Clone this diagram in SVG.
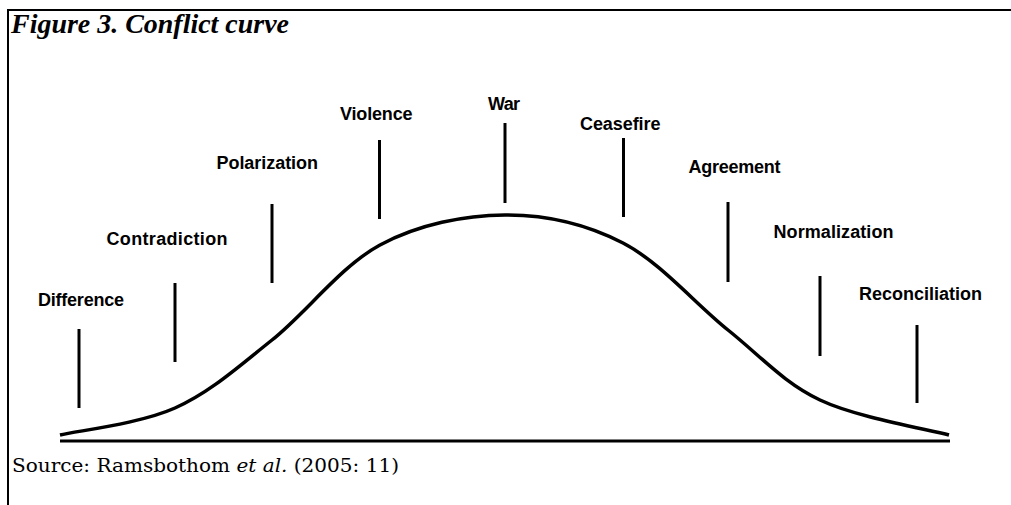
<svg xmlns="http://www.w3.org/2000/svg" width="1011" height="505" viewBox="0 0 1011 505">
  <style>
    .frame { stroke: #000; stroke-width: 2; fill: none; }
    .axis { stroke: #000; stroke-width: 3; fill: none; }
    .curve { stroke: #000; stroke-width: 3.5; fill: none; stroke-linejoin: round; }
    .tick { stroke: #000; stroke-width: 3; }
    .label { font-family: "Liberation Sans", Arial, sans-serif; font-weight: bold; font-size: 18px; fill: #000; }
    .title { font-family: "Liberation Serif", "Times New Roman", serif; font-weight: bold; font-style: italic; font-size: 27px; fill: #000; }
    .source { font-family: "DejaVu Serif", "Liberation Serif", serif; font-size: 19px; fill: #000; }
  </style>
  <rect width="1011" height="505" fill="#fff"/>

  <!-- figure frame: top rule and left rule -->
  <g id="frame">
    <line class="frame" x1="7" y1="10" x2="1011" y2="10"/>
    <line class="frame" x1="8" y1="10" x2="8" y2="505"/>
  </g>

  <text id="title" class="title" x="11" y="33" textLength="278" lengthAdjust="spacingAndGlyphs">Figure 3. Conflict curve</text>

  <!-- axis and bell-shaped conflict curve -->
  <g id="connectors">
    <line class="axis" x1="60" y1="441" x2="950" y2="441"/>
    <path class="curve" d="M60,435 C79.2,430.5 139.7,423.8 175,408 C210.3,392.2 237.8,367.2 272,340 C306.2,312.8 341.2,265.8 380,245 C418.8,224.2 464.5,215.3 505,215 C545.5,214.7 585.8,223.8 623,243 C660.2,262.2 695.2,303.8 728,330 C760.8,356.2 783.2,382.5 820,400 C856.8,417.5 927.5,429.2 949,435"/>
  </g>

  <!-- stages: label with pointer line -->
  <g id="difference">
    <text class="label" x="38" y="306" textLength="86">Difference</text>
    <line class="tick" x1="79" y1="329" x2="79" y2="408"/>
  </g>
  <g id="contradiction">
    <text class="label" x="106.5" y="245" textLength="121">Contradiction</text>
    <line class="tick" x1="175" y1="283" x2="175" y2="362"/>
  </g>
  <g id="polarization">
    <text class="label" x="216.5" y="169" textLength="101.5">Polarization</text>
    <line class="tick" x1="272" y1="204" x2="272" y2="283"/>
  </g>
  <g id="violence">
    <text class="label" x="340" y="120" textLength="72.5">Violence</text>
    <line class="tick" x1="379.5" y1="140" x2="379.5" y2="219"/>
  </g>
  <g id="war">
    <text class="label" x="488" y="110" textLength="32">War</text>
    <line class="tick" x1="505" y1="123" x2="505" y2="203"/>
  </g>
  <g id="ceasefire">
    <text class="label" x="580" y="130" textLength="80.5">Ceasefire</text>
    <line class="tick" x1="623.5" y1="138" x2="623.5" y2="217"/>
  </g>
  <g id="agreement">
    <text class="label" x="688.5" y="173" textLength="92">Agreement</text>
    <line class="tick" x1="728" y1="202" x2="728" y2="282"/>
  </g>
  <g id="normalization">
    <text class="label" x="773.5" y="238" textLength="120">Normalization</text>
    <line class="tick" x1="820" y1="276" x2="820" y2="356"/>
  </g>
  <g id="reconciliation">
    <text class="label" x="859" y="300">Reconciliation</text>
    <line class="tick" x1="917" y1="325" x2="917" y2="403"/>
  </g>

  <text id="source" class="source" x="12" y="472" textLength="387" lengthAdjust="spacingAndGlyphs">Source: Ramsbothom <tspan font-style="italic">et al.</tspan> (2005: 11)</text>
</svg>
